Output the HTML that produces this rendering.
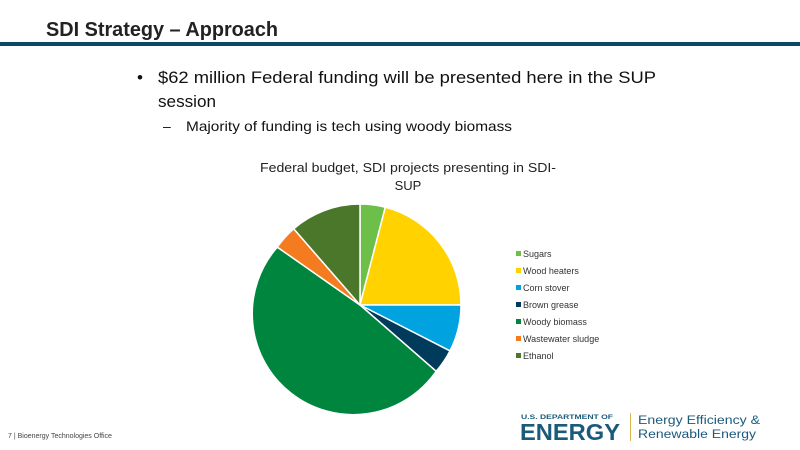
<!DOCTYPE html>
<html><head><meta charset="utf-8"><style>
html,body{margin:0;padding:0;background:#fff;}
svg{display:block;font-family:"Liberation Sans",sans-serif;}
</style></head><body>
<svg width="800" height="450" viewBox="0 0 800 450" xmlns="http://www.w3.org/2000/svg">
<rect width="800" height="450" fill="#fff"/>
<text x="46" y="36" font-size="20" font-weight="bold" fill="#222" textLength="232" lengthAdjust="spacingAndGlyphs">SDI Strategy – Approach</text>
<rect x="0" y="42" width="800" height="4" fill="#0d4868"/>
<text x="137" y="83" font-size="17" fill="#111">•</text>
<text x="158" y="83" font-size="17" fill="#111" textLength="498" lengthAdjust="spacingAndGlyphs">$62 million Federal funding will be presented here in the SUP</text>
<text x="158" y="107" font-size="17" fill="#111" textLength="58" lengthAdjust="spacingAndGlyphs">session</text>
<text x="163" y="131" font-size="14" fill="#111">–</text>
<text x="186" y="131" font-size="14" fill="#111" textLength="326" lengthAdjust="spacingAndGlyphs">Majority of funding is tech using woody biomass</text>
<text x="408" y="172" font-size="13" fill="#222" text-anchor="middle" textLength="296" lengthAdjust="spacingAndGlyphs">Federal budget, SDI projects presenting in SDI-</text>
<text x="408" y="190" font-size="13" fill="#222" text-anchor="middle">SUP</text>
<g stroke="#fff" stroke-width="1.5" stroke-linejoin="round">
<path d="M360,305 L360,204 A101,101 0 0 1 385.3,207.2 Z" fill="#6cc04a"/>
<path d="M360,305 L385.3,207.2 A101,101 0 0 1 461,305 Z" fill="#ffd200"/>
<path d="M360,305 L461,305 A101,101 0 0 1 450,350.9 Z" fill="#00a3e0"/>
<path d="M360,305 L450,350.9 A101,101 0 0 1 436.2,371.3 Z" fill="#003b5c"/>
<path d="M360,305 L436.2,371.3 A101,101 0 1 1 277.3,247.1 Z" fill="#00853f"/>
<path d="M360,305 L277.3,247.1 A101,101 0 0 1 293.7,228.8 Z" fill="#f47b20"/>
<path d="M360,305 L293.7,228.8 A101,101 0 0 1 360,204 Z" fill="#4a7729"/>
</g>
<g font-size="9" fill="#333">
<rect x="516" y="251" width="5" height="5" fill="#6cc04a"/><text x="523" y="257">Sugars</text>
<rect x="516" y="268" width="5" height="5" fill="#ffd200"/><text x="523" y="274">Wood heaters</text>
<rect x="516" y="285" width="5" height="5" fill="#00a3e0"/><text x="523" y="291">Corn stover</text>
<rect x="516" y="302" width="5" height="5" fill="#003b5c"/><text x="523" y="308">Brown grease</text>
<rect x="516" y="319" width="5" height="5" fill="#00853f"/><text x="523" y="325">Woody biomass</text>
<rect x="516" y="336" width="5" height="5" fill="#f47b20"/><text x="523" y="342">Wastewater sludge</text>
<rect x="516" y="353" width="5" height="5" fill="#4a7729"/><text x="523" y="359">Ethanol</text>
</g>
<text x="8" y="438" font-size="7" fill="#444">7 | Bioenergy Technologies Office</text>
<text x="521" y="419" font-size="6.5" font-weight="bold" fill="#1a5a7a" textLength="92" lengthAdjust="spacingAndGlyphs">U.S. DEPARTMENT OF</text>
<text x="520" y="440" font-size="23" font-weight="bold" fill="#1a5a7a" textLength="100" lengthAdjust="spacingAndGlyphs">ENERGY</text>
<rect x="630" y="413" width="1" height="28" fill="#d9b550"/>
<text x="638" y="424" font-size="11.5" fill="#1a5a7a" textLength="122" lengthAdjust="spacingAndGlyphs">Energy Efficiency &amp;</text>
<text x="638" y="438" font-size="11.5" fill="#1a5a7a" textLength="118" lengthAdjust="spacingAndGlyphs">Renewable Energy</text>
</svg>
</body></html>
